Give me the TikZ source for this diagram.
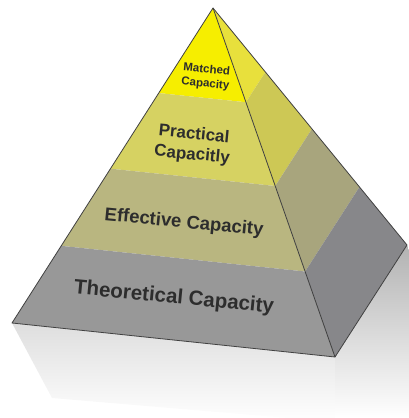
\documentclass[tikz,border=0pt]{standalone}
\usepackage{fontspec}
\setmainfont{Liberation Sans}
\usetikzlibrary{calc}

\definecolor{matchF}{RGB}{246,238,0}
\definecolor{matchR}{RGB}{232,224,60}
\definecolor{practF}{RGB}{214,210,98}
\definecolor{practR}{RGB}{205,200,85}
\definecolor{effF}{RGB}{185,182,128}
\definecolor{effR}{RGB}{168,165,125}
\definecolor{theoF}{RGB}{152,152,152}
\definecolor{theoR}{RGB}{135,135,138}
\definecolor{txt}{RGB}{45,45,45}

\tikzset{
  edge/.style={draw=black!75,line width=0.8pt,line join=round},
  layertext/.style={text=txt,font=\bfseries,align=center,inner sep=0pt,rotate=-5.5}
}

\begin{document}
\begin{tikzpicture}[x=1pt,y=-1pt]
  \useasboundingbox (0,0) rectangle (409,418);
  \coordinate (apex) at (213,8);
  \coordinate (left) at (12,323);
  \coordinate (front) at (335,357);
  \coordinate (right) at (407,245);

  % reflection on the floor
  \shade[top color=gray!26,bottom color=white] (left) -- (front) -- ($(front)+(0,65)$) -- ($(left)+(40,75)$) -- cycle;
  \shade[top color=gray!60,bottom color=white] (front) -- (right) -- (409,250) -- (409,418) -- (335,418) -- cycle;

  % the four layers, front face and right face
  \foreach \ta/\tb/\fc/\rc in {0/0.27/matchF/matchR,0.27/0.51/practF/practR,0.51/0.755/effF/effR,0.755/1/theoF/theoR}{
    \fill[\fc] ($(apex)!\ta!(left)$) -- ($(apex)!\ta!(front)$) -- ($(apex)!\tb!(front)$) -- ($(apex)!\tb!(left)$) -- cycle;
    \fill[\rc] ($(apex)!\ta!(front)$) -- ($(apex)!\ta!(right)$) -- ($(apex)!\tb!(right)$) -- ($(apex)!\tb!(front)$) -- cycle;
  }

  % edges
  \draw[edge] (apex) -- (left) -- (front) -- (right) -- cycle;
  \draw[edge] (apex) -- (front);

  % labels
  \node[layertext,font=\bfseries\fontsize{11.5}{14.5}\selectfont] (matched) at (206,77) {Matched\\Capacity};
  \node[layertext,font=\bfseries\fontsize{17}{20.5}\selectfont] (practical) at (193,145) {Practical\\Capacitly};
  \node[layertext,font=\bfseries\fontsize{18.5}{20}\selectfont] (effective) at (184,223) {Effective Capacity};
  \node[layertext,font=\bfseries\fontsize{20.5}{22}\selectfont] (theoretical) at (174,298) {Theoretical Capacity};
\end{tikzpicture}
\end{document}
